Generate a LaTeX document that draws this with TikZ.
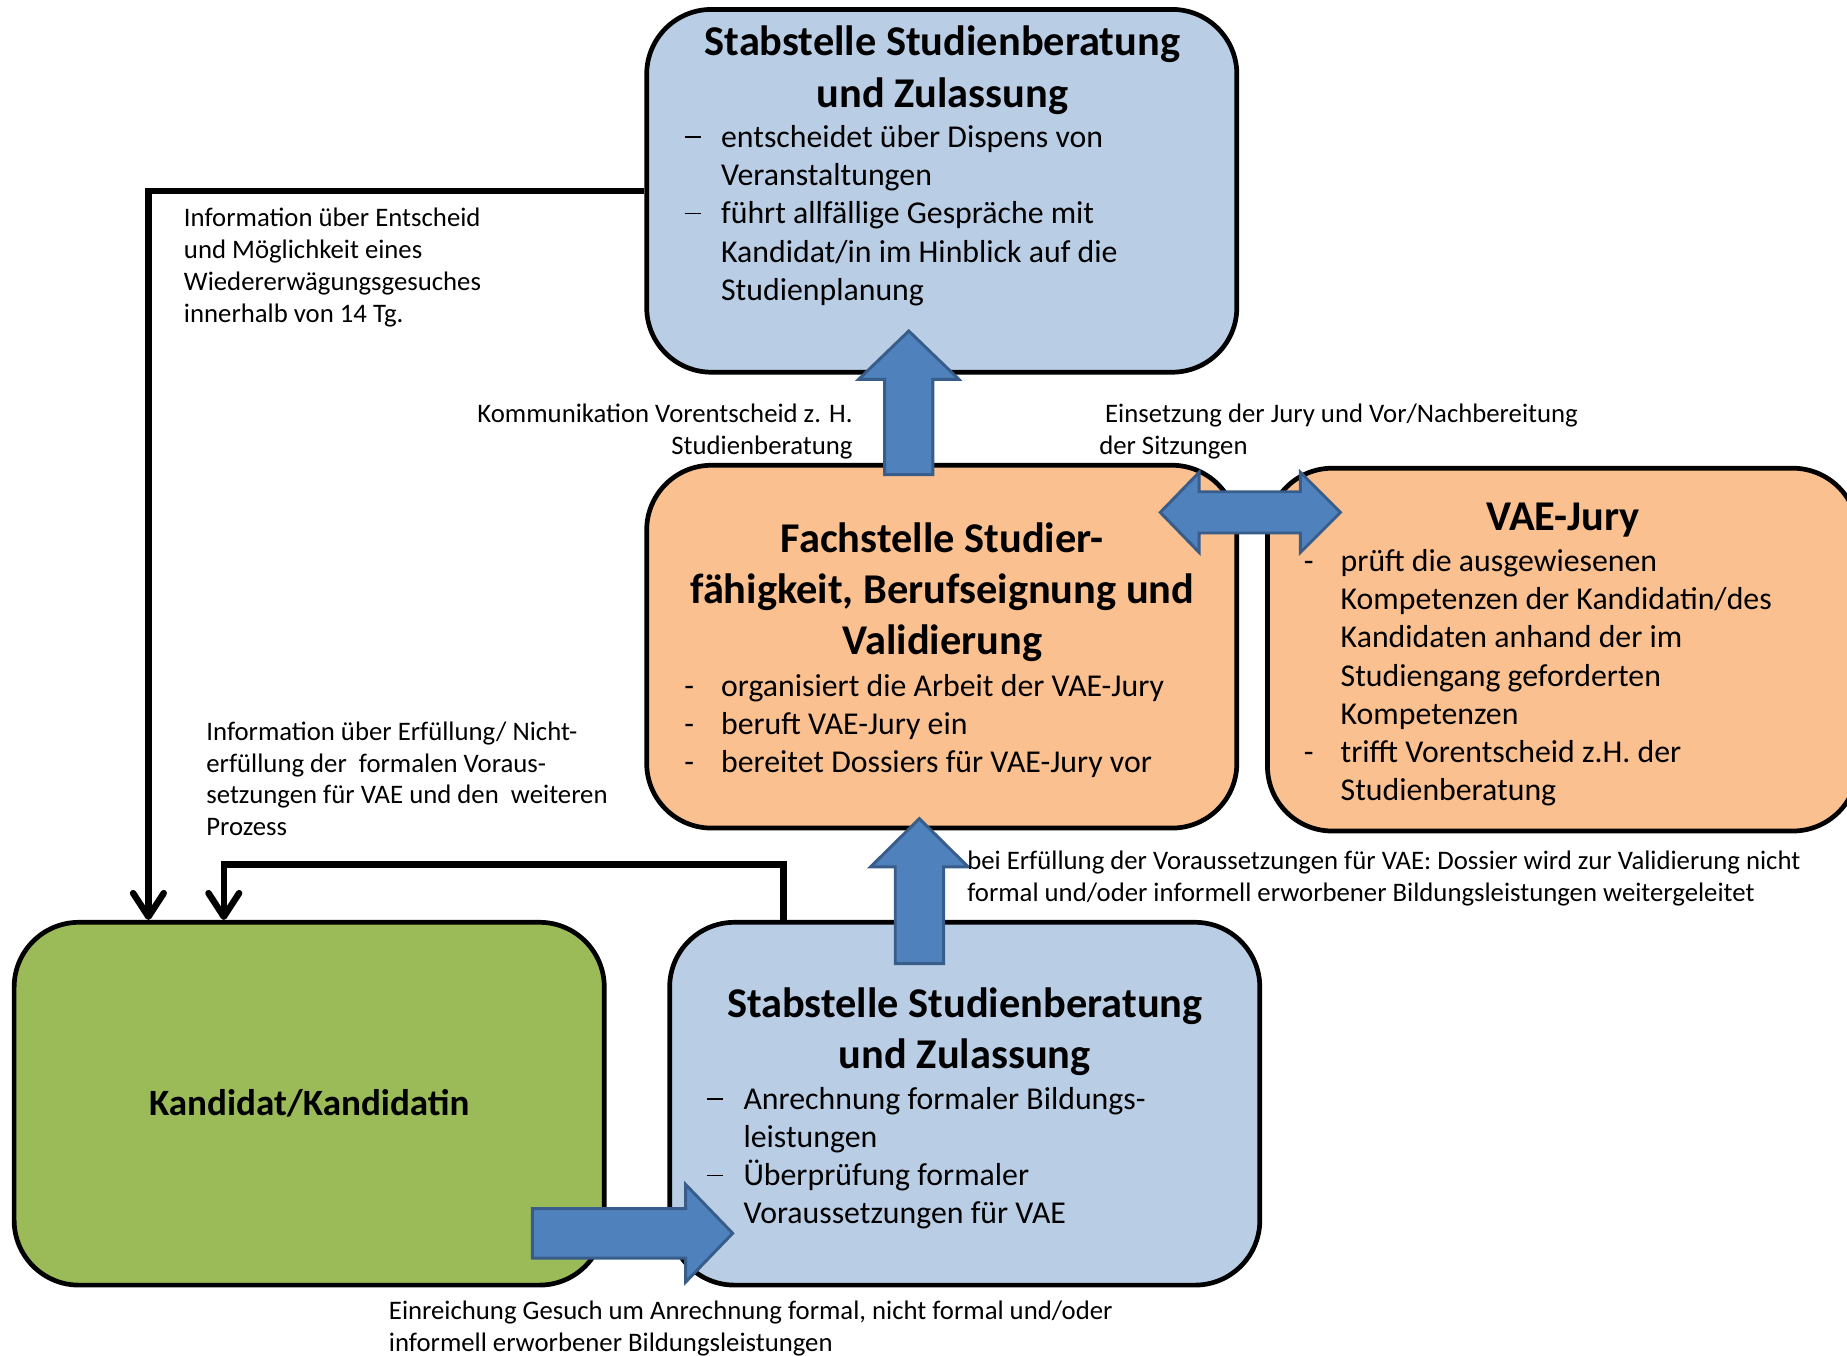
\documentclass[tikz,border=0pt]{standalone}
\usepackage{fontspec}
\setmainfont{Carlito}
\usetikzlibrary{positioning,calc,arrows.meta}

\definecolor{stabblue}{HTML}{B9CDE5}
\definecolor{fachorange}{HTML}{FAC090}
\definecolor{kandgreen}{HTML}{9BBB59}
\definecolor{arrowfill}{HTML}{4F81BD}
\definecolor{arrowline}{HTML}{385D8A}

% dashes in front of the list entries
\newcommand{\dashitem}{\llap{\rule[8pt]{14pt}{1.3pt}\hspace{17pt}}}
\newcommand{\hypitem}{\llap{-\hspace{23pt}}}

\begin{document}
\begin{tikzpicture}[x=1pt, y=1pt,
    box/.style={draw, line width=4pt, rounded corners=55pt, minimum width=501pt,
      minimum height=308pt, inner sep=0pt},
    heading/.style={font=\bfseries\fontsize{36}{43.5}\selectfont, align=center,
      anchor=base, inner sep=0pt},
    items/.style={font=\fontsize{27}{32.5}\selectfont, align=left, anchor=base west,
      inner sep=0pt},
    note/.style={font=\fontsize{22.7}{27}\selectfont, align=left, anchor=base west,
      inner sep=0pt},
    conn/.style={line width=5.5pt, -{Straight Barb[length=20pt, width=26pt, round]}},
    blockarrow/.style={fill=arrowfill, draw=arrowline, line width=2.5pt, line join=miter}]
  \useasboundingbox (0,0) rectangle (1568,1151);

  % the five offices (text nodes sit on the baseline of their last line)
  \node[box, fill=stabblue] (stabtop) at (799.5,989) {};
  \node[box, fill=fachorange] (fach) at (799.5,602) {};
  \node[box, fill=fachorange] (jury) at (1326.5,599.5) {};
  \node[box, fill=kandgreen, font=\bfseries\fontsize{31.5}{36}\selectfont] (kand) at (262.5,214) {Kandidat/Kandidatin};
  \node[box, fill=stabblue] (stabbot) at (819,214) {};

  \node[heading] (stabtoptitle) at (800,1060) {Stabstelle Studienberatung\\und Zulassung};
  \node[items] (stabtopitems) at (612,896) {\dashitem entscheidet über Dispens von\\Veranstaltungen\\
    \dashitem führt allfällige Gespräche mit\\Kandidat/in im Hinblick auf die\\Studienplanung};

  \node[heading] (fachtitle) at (800,595) {Fachstelle Studier-\\fähigkeit, Berufseignung und\\Validierung};
  \node[items] (fachitems) at (612,495) {\hypitem organisiert die Arbeit der VAE-Jury\\
    \hypitem beruft VAE-Jury ein\\\hypitem bereitet Dossiers für VAE-Jury vor};

  \node[heading] (jurytitle) at (1327,701) {VAE-Jury};
  \node[items] (juryitems) at (1138,471) {\hypitem prüft die ausgewiesenen\\Kompetenzen der Kandidatin/des\\
    Kandidaten anhand der im\\Studiengang geforderten\\Kompetenzen\\
    \hypitem trifft Vorentscheid z.H. der\\Studienberatung};

  \node[heading] (stabbottitle) at (819,244) {Stabstelle Studienberatung\\und Zulassung};
  \node[items] (stabbotitems) at (631,112) {\dashitem Anrechnung formaler Bildungs-\\leistungen\\
    \dashitem Überprüfung formaler\\Voraussetzungen für VAE};

  % line connectors back to the candidate
  \draw[conn] (stabtop.west) -| ([xshift=-136.5pt]kand.north);
  \draw[conn] ([xshift=-154pt]stabbot.north) -- ++(0,47) -| ([xshift=-72.5pt]kand.north);

  % block arrows
  \draw[blockarrow] ($(fach.north)+(-28,-10)$) coordinate (up1)
    ++(-20.5,0) -- ++(0,81) -- ++(-22,0) -- ++(42.5,41) -- ++(42.5,-41) -- ++(-22,0) -- ++(0,-81) -- cycle;
  \draw[blockarrow] ($(stabbot.north)+(-38.5,-37)$) coordinate (up2)
    ++(-20.5,0) -- ++(0,82) -- ++(-21,0) -- ++(41.5,41) -- ++(41.5,-41) -- ++(-21,0) -- ++(0,-82) -- cycle;
  \draw[blockarrow] ($(kand.east)+(-63,-110)$) coordinate (right1)
    ++(0,21) -- ++(130,0) -- ++(0,20.5) -- ++(40,-41.5) -- ++(-40,-41.5) -- ++(0,20.5) -- ++(-130,0) -- cycle;
  \draw[blockarrow] ($(fach.north east)+(-67,-42)$) coordinate (both)
    -- ++(33,34) -- ++(0,-16.5) -- ++(86,0) -- ++(0,16.5) -- ++(34,-34) -- ++(-34,-34)
    -- ++(0,16.5) -- ++(-86,0) -- ++(0,-16.5) -- cycle;

  % connector texts
  \node[note] (infoentscheid) at (156,877.5) {Information über Entscheid\\und Möglichkeit eines\\Wiedererwägungsgesuches\\innerhalb von 14 Tg.};
  \node[note, align=right, anchor=base east] (kommunikation) at (724,765.5) {Kommunikation Vorentscheid z. H.\\Studienberatung};
  \node[note] (einsetzung) at (933,765.5) {\hspace*{5pt}Einsetzung der Jury und Vor/Nachbereitung\\der Sitzungen};
  \node[note] (infoerfuellung) at (175,441.5) {Information über Erfüllung/ Nicht-\\erfüllung der\ \ formalen Voraus-\\setzungen für VAE und den\ \ weiteren\\Prozess};
  \node[note] (weiterleitung) at (821,385.5) {bei Erfüllung der Voraussetzungen für VAE: Dossier wird zur Validierung nicht\\formal und/oder informell erworbener Bildungsleistungen weitergeleitet};
  \node[note] (einreichung) at (330,3.5) {Einreichung Gesuch um Anrechnung formal, nicht formal und/oder\\informell erworbener Bildungsleistungen};
\end{tikzpicture}
\end{document}
